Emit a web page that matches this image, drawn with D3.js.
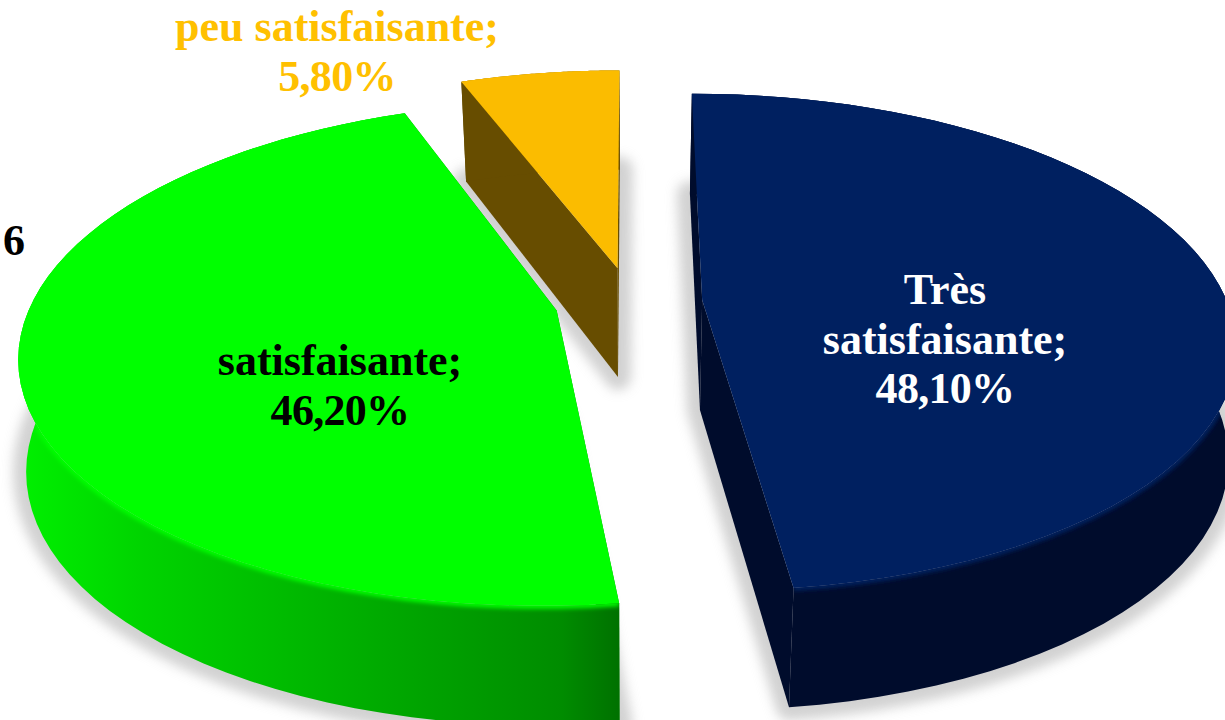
<!DOCTYPE html>
<html>
<head>
<meta charset="utf-8">
<script src="https://cdn.jsdelivr.net/npm/d3@7"></script>
<style>
  html, body { margin: 0; padding: 0; background: #fff; overflow: hidden; }
  text { font-family: "Liberation Serif", serif; font-weight: bold; }
</style>
</head>
<body>
<div id="chart"></div>
<script>
// chart data
var categories = ["Très satisfaisante", "satisfaisante", "peu satisfaisante"];
var percents = [48.1, 46.2, 5.8];
var strayLabel = "6"; // cut off label at the left border of the picture

// how far each slice is pulled out of the pie (fraction of the radius)
var explode = [0.136, 0.145, 0.145];

var topColor = d3.scaleOrdinal().domain(categories).range(["#002060", "#00ff00", "#fbbc00"]);
var sideColor = d3.scaleOrdinal().domain(categories).range(["#000c2c", "#008f00", "#674d00"]);
var textColor = d3.scaleOrdinal().domain(categories).range(["#ffffff", "#000000", "#ffc000"]);

var svgWidth = 1225, svgHeight = 720;

// perspective of the pie plane
var view = { cx: 631, cy: 302, a: 525, b: 242, k: 0.17, depth: 110 };

function project(x, y, z) {
    var w = 1 + view.k * y;
    var dx = view.a * x / w;
    // the walls lean a little towards the middle, never more than a few pixels
    var sx = view.cx + dx + z * 8 * Math.tanh(dx / 250);
    var sy = view.cy - view.b * y / w - z * view.depth * (1 - 0.086 * y);
    return [sx, sy];
}

var svg = d3.select("#chart").append("svg")
    .attr("width", svgWidth)
    .attr("height", svgHeight);

var defs = svg.append("defs");
defs.append("filter").attr("id", "shadowBlur")
    .attr("x", "-20%").attr("y", "-20%").attr("width", "140%").attr("height", "140%")
    .append("feGaussianBlur").attr("stdDeviation", 6);
defs.append("filter").attr("id", "rimBlur")
    .attr("x", "-5%").attr("y", "-5%").attr("width", "110%").attr("height", "110%")
    .append("feGaussianBlur").attr("stdDeviation", 2.2);

// green wall goes dark towards the front corner
var greenWall = defs.append("linearGradient").attr("id", "wall-1")
    .attr("gradientUnits", "userSpaceOnUse")
    .attr("x1", 20).attr("x2", 622).attr("y1", 0).attr("y2", 0);
[[0, "#00f000"], [0.2, "#00d400"], [0.6, "#00aa00"], [0.9, "#008c00"], [1, "#007000"]].forEach(function(s) {
    greenWall.append("stop").attr("offset", s[0]).attr("stop-color", s[1]);
});

var slices = d3.pie().sort(null).value(function(d) { return d; })(percents);

var line = d3.line();

// one point of a slice: angle clockwise from the back, r from its own apex
function slicePoint(i, angle, r, z) {
    var mid = (slices[i].startAngle + slices[i].endAngle) / 2;
    var x = r * Math.sin(angle) + explode[i] * Math.sin(mid);
    var y = r * Math.cos(angle) + explode[i] * Math.cos(mid);
    return project(x, y, z);
}

function arcPoints(i, z, r) {
    var s = slices[i];
    return d3.range(0, 61).map(function(n) {
        return slicePoint(i, s.startAngle + (s.endAngle - s.startAngle) * n / 60, r, z);
    });
}

function facePath(i, z, r) {
    var pts = arcPoints(i, z, r);
    pts.push(slicePoint(i, 0, 0, z));
    return line(pts) + "Z";
}

function wallPath(i) {
    return line(arcPoints(i, 0, 1).concat(arcPoints(i, -1, 1).reverse())) + "Z";
}

function radialWall(i, angle) {
    return line([
        slicePoint(i, 0, 0, 0), slicePoint(i, angle, 1, 0),
        slicePoint(i, angle, 1, -1), slicePoint(i, 0, 0, -1)
    ]) + "Z";
}

// back slice first, front slices over it
var order = [2, 0, 1];

// soft grey shadows under the slices
svg.append("g").selectAll("path")
    .data(order)
    .enter()
    .append("path")
    .attr("d", function(i) { return facePath(i, -1, 1); })
    .attr("fill", "#b4b4b4")
    .attr("stroke", "#b4b4b4")
    .attr("stroke-width", 26)
    .attr("stroke-linejoin", "round")
    .attr("filter", "url(#shadowBlur)")
    .attr("opacity", 0.6);

order.forEach(function(i) {
    var cat = categories[i];
    var g = svg.append("g");
    var wallFill = i === 1 ? "url(#wall-1)" : sideColor(cat);

    g.append("path").attr("d", radialWall(i, slices[i].startAngle)).attr("fill", sideColor(cat));
    g.append("path").attr("d", radialWall(i, slices[i].endAngle)).attr("fill", sideColor(cat));
    g.append("path").attr("d", wallPath(i)).attr("fill", wallFill);

    // top colour bleeds a little into the outer wall
    defs.append("clipPath").attr("id", "wallClip" + i)
        .append("path").attr("d", wallPath(i));
    g.append("g").attr("clip-path", "url(#wallClip" + i + ")")
        .append("path")
        .attr("d", line(arcPoints(i, 0, 1)))
        .attr("fill", "none")
        .attr("stroke", topColor(cat))
        .attr("stroke-width", 6)
        .attr("filter", "url(#rimBlur)");

    g.append("path").attr("d", facePath(i, 0, 1)).attr("fill", topColor(cat));
});

// labels, one text per line
function pct(v) {
    return v.toFixed(2).replace(".", ",") + "%";
}
var labelLines = [
    ["Très", "satisfaisante;", pct(percents[0])],
    [categories[1] + ";", pct(percents[1])],
    [categories[2] + ";", pct(percents[2])]
];
var labelPos = [
    { x: 945, y: 304 },
    { x: 340, y: 375 },
    { x: 337, y: 41 }
];
var lineStep = 49.5;

labelLines.forEach(function(lines, i) {
    svg.append("g").selectAll("text")
        .data(lines)
        .enter()
        .append("text")
        .attr("x", labelPos[i].x)
        .attr("y", function(d, n) { return labelPos[i].y + n * lineStep; })
        .attr("text-anchor", "middle")
        .attr("font-size", "44px")
        .attr("letter-spacing", function(d) { return d.slice(-1) === "%" ? "-0.7px" : null; })
        .attr("fill", textColor(categories[i]))
        .text(function(d) { return d; });
});

svg.append("text")
    .attr("x", 14)
    .attr("y", 255)
    .attr("text-anchor", "middle")
    .attr("font-size", "44px")
    .attr("fill", "#000")
    .text(strayLabel);
</script>
</body>
</html>
